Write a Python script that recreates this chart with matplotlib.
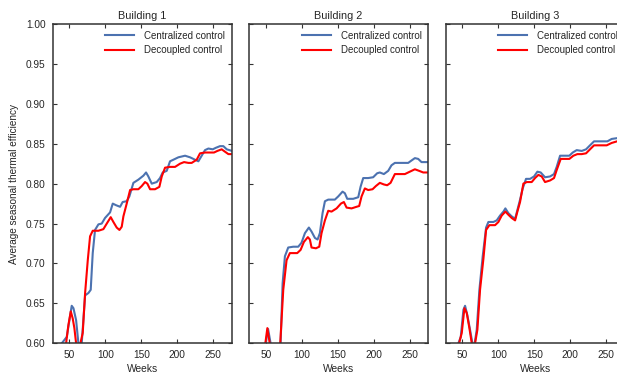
import matplotlib
matplotlib.use("Agg")
import matplotlib.pyplot as plt

# ---------------- data ----------------
titles = ["Building 1", "Building 2", "Building 3"]
series_labels = ["Centralized control", "Decoupled control"]

b1_central_weeks = [30, 39.4, 46.3, 53.2, 55.6, 59.3, 62.5, 64.8, 67.1, 71.8, 76.4, 79.6, 82.4, 85.6, 90.3,
                    94.9, 99.5, 106.5, 110.2, 114.8, 120.4, 124, 129.6, 133.3, 138.9, 145.8, 152.8, 156.5,
                    159.7, 164.4, 171.3, 175.9, 179.6, 185.2, 189.8, 194.5, 201.4, 210.7, 217.6, 224.5,
                    229.2, 233.8, 238.4, 243.1, 249.1, 253.7, 259.3, 263.9, 268.6, 276]
b1_central = [0.55, 0.600, 0.608, 0.647, 0.644, 0.629, 0.600, 0.585, 0.600, 0.660, 0.663, 0.667, 0.713, 0.742,
              0.749, 0.750, 0.757, 0.764, 0.775, 0.773, 0.771, 0.777, 0.778, 0.784, 0.801, 0.805, 0.810,
              0.814, 0.809, 0.800, 0.802, 0.807, 0.814, 0.816, 0.828, 0.830, 0.833, 0.835, 0.833, 0.830,
              0.828, 0.835, 0.842, 0.844, 0.843, 0.845, 0.847, 0.847, 0.843, 0.841]

b1_decoupled_weeks = [35, 45.4, 48.6, 51.9, 54.6, 56.9, 59.3, 62.0, 64.8, 68.5, 71.8, 75.5, 78.7, 82.4, 90.3,
                      97.2, 101.9, 107.4, 111.1, 115.7, 119.5, 122.7, 125, 129.6, 134.3, 138.9, 145.8,
                      150.5, 155.1, 158.3, 162.1, 169, 175, 178.3, 182.9, 189.8, 196.8, 203.7, 209.3, 215.3,
                      219.9, 226.9, 231.5, 238.4, 245.4, 250.9, 255.6, 261.6, 266.2, 270.9, 276]
b1_decoupled = [0.55, 0.600, 0.623, 0.640, 0.631, 0.619, 0.600, 0.585, 0.598, 0.613, 0.663, 0.704, 0.734,
                0.741, 0.741, 0.743, 0.750, 0.758, 0.752, 0.745, 0.742, 0.746, 0.759, 0.775, 0.792, 0.793,
                0.793, 0.797, 0.802, 0.800, 0.793, 0.793, 0.796, 0.809, 0.820, 0.821, 0.821, 0.825, 0.827,
                0.826, 0.826, 0.830, 0.838, 0.839, 0.839, 0.839, 0.841, 0.843, 0.840, 0.837, 0.837]

b2_central_weeks = [45, 49.8, 53.0, 56.5, 63, 70.4, 73.2, 76.4, 81, 88, 94.9, 99.5, 104.2, 109.7, 113.4,
                    118.1, 121.8, 125, 128.7, 132, 136.6, 145.8, 150.5, 156.5, 159.7, 163, 171.3, 178.3,
                    181.5, 185.2, 192.1, 199, 204.6, 208.3, 213.9, 219.9, 224.5, 229.2, 236.1, 247.7,
                    252.3, 257, 261.6, 266.2, 276]
b2_central = [0.58, 0.600, 0.618, 0.600, 0.57, 0.600, 0.675, 0.709, 0.720, 0.721, 0.721, 0.726, 0.738,
              0.745, 0.740, 0.732, 0.730, 0.738, 0.763, 0.778, 0.780, 0.780, 0.784, 0.790, 0.788, 0.781,
              0.781, 0.783, 0.796, 0.807, 0.807, 0.808, 0.813, 0.814, 0.812, 0.816, 0.823, 0.826, 0.826,
              0.826, 0.829, 0.832, 0.831, 0.827, 0.827]

b2_decoupled_weeks = [45, 49.2, 52.0, 55.3, 63, 69.9, 74.1, 78.7, 83.3, 88, 93.5, 98.2, 102.8, 108.3, 111.1,
                      113.4, 119.5, 124.1, 127.3, 132, 136.6, 141.2, 148.2, 154.2, 158.3, 162.1, 169,
                      175.9, 179.6, 182.9, 187.5, 192.1, 198.2, 202.8, 208.3, 213.9, 218.5, 223.2, 229.2,
                      235.2, 243.1, 250, 257, 263, 268.6, 276]
b2_decoupled = [0.58, 0.600, 0.619, 0.600, 0.57, 0.600, 0.667, 0.704, 0.713, 0.713, 0.713, 0.717, 0.727,
                0.733, 0.730, 0.720, 0.719, 0.721, 0.738, 0.754, 0.766, 0.765, 0.769, 0.775, 0.777, 0.770,
                0.769, 0.771, 0.772, 0.784, 0.794, 0.792, 0.793, 0.797, 0.801, 0.799, 0.798, 0.801, 0.812,
                0.812, 0.812, 0.815, 0.818, 0.816, 0.814, 0.814]

b3_central_weeks = [35, 44.4, 47.7, 51.4, 53.7, 56.9, 60.6, 63.9, 66.7, 69.9, 73.6, 78.2, 82.9, 86.1, 93.1,
                    97.7, 102.3, 107, 109.7, 113.9, 118.5, 123.2, 126.4, 130.1, 133.8, 138.4, 144, 149.5,
                    154.2, 158.8, 164.8, 171.8, 177.3, 181, 185.7, 192.6, 198.6, 203.3, 208.8, 215.8,
                    221.8, 227.3, 232.9, 238.9, 245.8, 251.4, 257.4, 264.8, 276]
b3_central = [0.57, 0.600, 0.608, 0.642, 0.647, 0.635, 0.617, 0.600, 0.598, 0.617, 0.667, 0.709, 0.745,
              0.752, 0.752, 0.754, 0.760, 0.765, 0.769, 0.763, 0.759, 0.756, 0.767, 0.780, 0.794, 0.806,
              0.806, 0.809, 0.815, 0.814, 0.808, 0.809, 0.812, 0.821, 0.835, 0.835, 0.835, 0.839, 0.842,
              0.841, 0.843, 0.848, 0.853, 0.853, 0.853, 0.853, 0.856, 0.857, 0.857]

b3_decoupled_weeks = [35, 45.4, 49.1, 52.8, 56, 59.7, 63, 65.5, 67.6, 70.8, 74.5, 79.2, 82.9, 87.5, 95.4,
                      100, 104.6, 109.7, 113.9, 118.5, 123.2, 126.4, 130.1, 134.7, 139.4, 146.3, 150.9,
                      155.6, 160.2, 164.8, 171.8, 177.3, 181, 186.6, 192.6, 198.6, 204.2, 209.7, 215.8,
                      221.8, 227.3, 232.9, 241.2, 250.5, 257.4, 264.8, 276]
b3_decoupled = [0.57, 0.600, 0.613, 0.644, 0.638, 0.619, 0.600, 0.596, 0.600, 0.617, 0.667, 0.706, 0.742,
                0.748, 0.748, 0.752, 0.760, 0.765, 0.761, 0.757, 0.754, 0.765, 0.777, 0.800, 0.802, 0.802,
                0.807, 0.811, 0.809, 0.802, 0.804, 0.807, 0.817, 0.831, 0.831, 0.831, 0.835, 0.837, 0.837,
                0.838, 0.843, 0.848, 0.848, 0.848, 0.851, 0.853, 0.853]

central_weeks = [b1_central_weeks, b2_central_weeks, b3_central_weeks]
central_vals = [b1_central, b2_central, b3_central]
decoupled_weeks = [b1_decoupled_weeks, b2_decoupled_weeks, b3_decoupled_weeks]
decoupled_vals = [b1_decoupled, b2_decoupled, b3_decoupled]

x_ticks = [50, 100, 150, 200, 250]
y_ticks = [0.60, 0.65, 0.70, 0.75, 0.80, 0.85, 0.90, 0.95, 1.00]

# ---------------- style ----------------
plt.rcParams['font.family'] = ['Liberation Sans', 'DejaVu Sans']
text_color = '#262626'
edge_color = '#333333'

fig = plt.figure(figsize=(6.17, 3.74), dpi=100)
W, H = 617.0, 374.0
ax_w = 179.2 / W
ax_h = (343.3 - 24.0) / H
bottom = (H - 343.3) / H
lefts = [52.5 / W, 249.0 / W, 445.5 / W]

axes = []
for i in range(3):
    ax = fig.add_axes([lefts[i], bottom, ax_w, ax_h])
    axes.append(ax)
    ax.plot(central_weeks[i], central_vals[i], color='#4C72B0', lw=1.5, label=series_labels[0])
    ax.plot(decoupled_weeks[i], decoupled_vals[i], color='#FF0000', lw=1.5, label=series_labels[1])
    ax.set_xlim(26.5, 275.5)
    ax.set_ylim(0.6, 1.0)
    ax.set_xticks(x_ticks)
    ax.set_yticks(y_ticks)
    ax.tick_params(direction='in', length=3, width=0.8, colors=edge_color, labelcolor=text_color,
                   labelsize=7.3, top=True, right=True, pad=5)
    for s in ax.spines.values():
        s.set_color(edge_color)
        s.set_linewidth(1.1)
    ax.set_title(titles[i], fontsize=7.8, color=text_color, pad=3.5)
    ax.set_xlabel("Weeks", fontsize=7.4, color=text_color, labelpad=3)
    if i == 0:
        ax.set_yticklabels([f"{v:.2f}" for v in y_ticks])
        ax.set_ylabel("Average seasonal thermal efficiency", fontsize=7.2, color=text_color, labelpad=5)
    else:
        ax.set_yticklabels([])
    leg = ax.legend(loc='upper right', frameon=False, fontsize=7, handlelength=3.0,
                    handletextpad=1.0, borderaxespad=0.3, labelspacing=0.45)
    for t in leg.get_texts():
        t.set_color(text_color)

fig.savefig("out.png", dpi=100)
